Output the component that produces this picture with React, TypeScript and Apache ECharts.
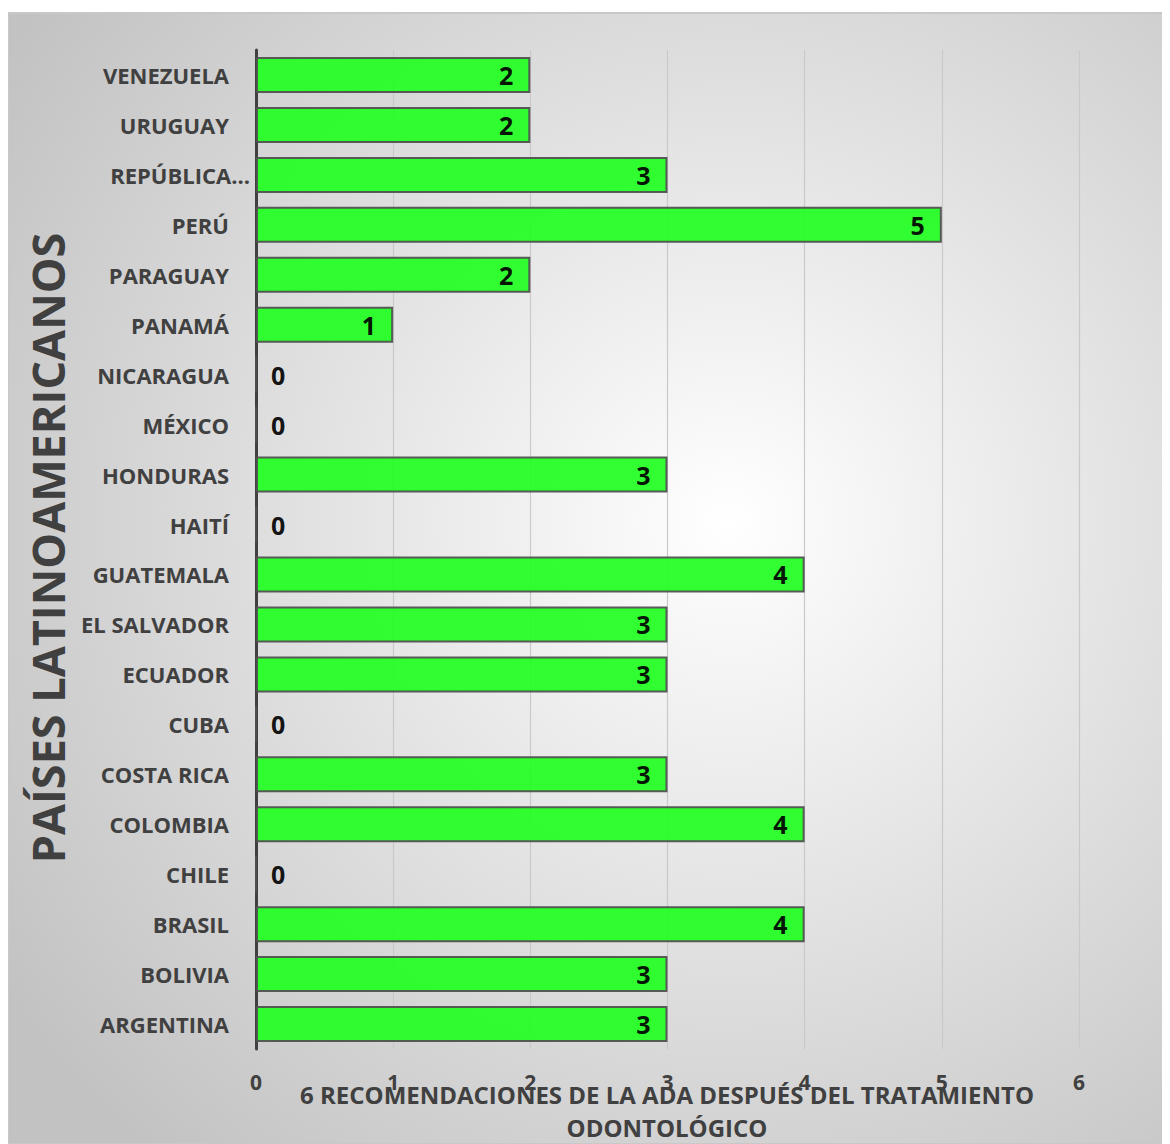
import React, { useEffect, useRef } from "react";
import * as echarts from "echarts";

const countries = [
  "ARGENTINA", "BOLIVIA", "BRASIL", "CHILE", "COLOMBIA", "COSTA RICA", "CUBA",
  "ECUADOR", "EL SALVADOR", "GUATEMALA", "HAITÍ", "HONDURAS", "MÉXICO",
  "NICARAGUA", "PANAMÁ", "PARAGUAY", "PERÚ", "REPÚBLICA DOMINICANA", "URUGUAY", "VENEZUELA",
];
const values = [3, 3, 4, 0, 4, 3, 0, 3, 3, 4, 0, 3, 0, 0, 1, 2, 5, 3, 2, 2];
const xTicks = [0, 1, 2, 3, 4, 5, 6];
const xTitle = "6 RECOMENDACIONES DE LA ADA DESPUÉS DEL TRATAMIENTO\nODONTOLÓGICO";
const yTitle = "PAÍSES LATINOAMERICANOS";

const FONT = "'Open Sans', 'Noto Sans', sans-serif";

export default function App() {
  const ref = useRef<HTMLDivElement>(null);
  useEffect(() => {
    if (!ref.current) return;
    const chart = echarts.init(ref.current, undefined, { renderer: "svg" });
    chart.setOption({
      animation: false,
      textStyle: { fontFamily: FONT },
      graphic: [
        {
          type: "rect",
          z: -10,
          silent: true,
          shape: { x: 0, y: 5, width: 1162, height: 1131 },
          style: {
            fill: new echarts.graphic.RadialGradient(0.62, 0.45, 0.75, [
              { offset: 0, color: "#ffffff" },
              { offset: 1, color: "#c2c2c2" },
            ]),
            stroke: "#c8c8c8",
            lineWidth: 2,
          },
        },
        {
          type: "text",
          x: 39,
          y: 540,
          rotation: Math.PI / 2,
          style: {
            text: yTitle,
            fontFamily: FONT,
            fontSize: 45,
            fontWeight: "bold",
            fill: "#404040",
            align: "center",
            verticalAlign: "middle",
          },
        },
        {
          type: "text",
          x: 659,
          y: 1070,
          style: {
            text: xTitle,
            fontFamily: FONT,
            fontSize: 24,
            fontWeight: "bold",
            fill: "#404040",
            align: "center",
            verticalAlign: "top",
            lineHeight: 33,
          },
        },
      ],
      grid: { left: 248, right: 91, top: 42, bottom: 95, containLabel: false },
      xAxis: {
        type: "value",
        min: 0,
        max: 6,
        interval: 1,
        axisLine: { show: false },
        axisTick: { show: false },
        splitLine: { show: true, lineStyle: { color: "#c9c9c9", width: 1.2 } },
        axisLabel: {
          margin: 22,
          fontSize: 21,
          fontWeight: "bold",
          color: "#404040",
          fontFamily: FONT,
          formatter: (v: number) => (xTicks.includes(v) ? String(v) : ""),
        },
      },
      yAxis: {
        type: "category",
        data: countries,
        axisLine: { show: true, lineStyle: { color: "#404040", width: 3 } },
        axisTick: { show: false },
        axisLabel: {
          margin: 27,
          fontSize: 22,
          fontWeight: "bold",
          color: "#404040",
          fontFamily: FONT,
          formatter: (v: string) =>
            v === "REPÚBLICA DOMINICANA" ? "{rep|REPÚBLICA...}" : v,
          rich: {
            rep: {
              fontSize: 22,
              fontWeight: "bold",
              color: "#404040",
              fontFamily: FONT,
              padding: [0, -21, 0, 0],
            },
          },
        },
      },
      series: [
        {
          type: "bar",
          data: values.map((v) => ({
            value: v,
            label: v === 0
              ? { position: "right", distance: 14 }
              : { position: "insideRight", distance: 17 },
          })),
          barWidth: 36,
          itemStyle: {
            color: "#21ff21",
            opacity: 0.93,
            borderColor: "#505050",
            borderWidth: 2,
          },
          label: {
            show: true,
            fontSize: 25,
            fontWeight: "bold",
            color: "#000000",
            fontFamily: FONT,
          },
        },
      ],
    });
    return () => chart.dispose();
  }, []);
  return <div ref={ref} style={{ width: 1162, height: 1136 }} />;
}
